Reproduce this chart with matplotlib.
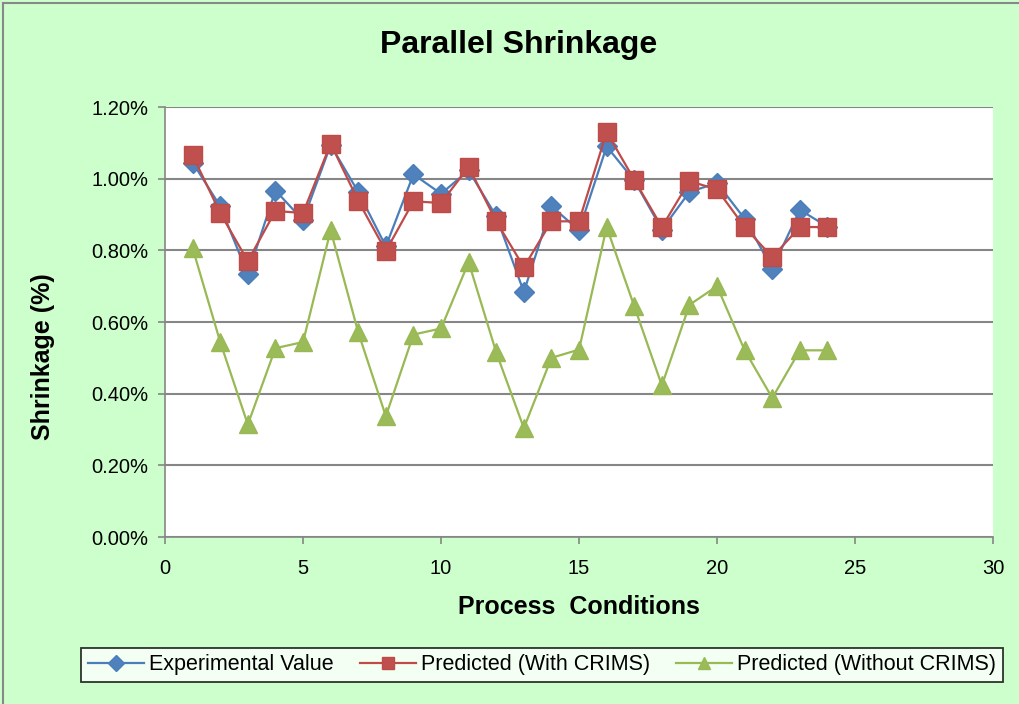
import matplotlib.pyplot as plt
from matplotlib.ticker import FuncFormatter, MultipleLocator
from matplotlib.lines import Line2D

plt.rcParams['font.family'] = ['Liberation Sans', 'DejaVu Sans']

# process condition index
conditions = list(range(1, 25))

# shrinkage values in %
experimental = [1.045, 0.923, 0.733, 0.967, 0.884, 1.094, 0.963, 0.811, 1.012, 0.958,
                1.023, 0.895, 0.684, 0.923, 0.856, 1.090, 0.995, 0.858, 0.963, 0.988,
                0.888, 0.749, 0.913, 0.866]
with_crims = [1.065, 0.904, 0.770, 0.910, 0.904, 1.098, 0.938, 0.798, 0.937, 0.932,
              1.033, 0.881, 0.753, 0.881, 0.881, 1.130, 0.997, 0.865, 0.993, 0.970,
              0.865, 0.781, 0.865, 0.865]
without_crims = [0.806, 0.544, 0.314, 0.527, 0.544, 0.856, 0.571, 0.337, 0.565, 0.582,
                 0.767, 0.515, 0.304, 0.500, 0.523, 0.865, 0.644, 0.423, 0.648, 0.700,
                 0.521, 0.388, 0.521, 0.521]

bg = '#CCFFCC'
fig = plt.figure(figsize=(10.2, 7.04), dpi=100, facecolor=bg)
ax = fig.add_axes([0.1618, 0.2372, 0.8118, 0.6108])
ax.set_facecolor('white')

ax.plot(conditions, experimental, color='#4A7EBB', lw=1.6, marker='D', ms=10,
        markerfacecolor='#4F81BD', markeredgecolor='#4A7EBB', label='Experimental Value', zorder=3)
ax.plot(conditions, with_crims, color='#BE4B48', lw=1.6, marker='s', ms=12.5,
        markerfacecolor='#C0504D', markeredgecolor='#BE4B48', label='Predicted (With CRIMS)', zorder=4)
ax.plot(conditions, without_crims, color='#98B954', lw=1.6, marker='^', ms=13,
        markerfacecolor='#9BBB59', markeredgecolor='#98B954', label='Predicted (Without CRIMS)', zorder=3)

ax.set_xlim(0, 30)
ax.set_ylim(0, 1.2)
ax.xaxis.set_major_locator(MultipleLocator(5))
ax.yaxis.set_major_locator(MultipleLocator(0.2))
ax.yaxis.set_major_formatter(FuncFormatter(lambda v, p: '%.2f%%' % v))
ax.grid(axis='y', color='#868686', lw=1.5)
ax.set_axisbelow(True)
for s in ['top', 'right']:
    ax.spines[s].set_visible(False)
for s in ['left', 'bottom']:
    ax.spines[s].set_color('#868686')
    ax.spines[s].set_linewidth(1.2)
ax.tick_params(colors='black', labelsize=14.5, length=5, color='#868686', width=1.2)
ax.tick_params(axis='y', pad=7)
ax.tick_params(axis='x', pad=11)

ax.set_xlabel('Process  Conditions', fontsize=18, fontweight='bold', labelpad=12)
fig.text(0.042, 0.493, 'Shrinkage (%)', rotation=90, ha='center', va='center',
         fontsize=18, fontweight='bold')
fig.text(0.508, 0.936, 'Parallel Shrinkage', ha='center', va='center', fontsize=23, fontweight='bold')

leg = fig.legend(loc='center', bbox_to_anchor=(0.5314, 0.0554), ncol=3, fontsize=15.5,
                 frameon=True, fancybox=False, edgecolor='black', facecolor='white',
                 handlelength=2.6, columnspacing=1.2, handletextpad=0.25,
                 borderpad=0.3, borderaxespad=0)
leg.get_frame().set_linewidth(1.3)
for h in leg.legend_handles:
    h.set_markersize(8)

# chart area border (top and left edges visible in the source)
fig.add_artist(Line2D([0.003, 0.003], [0.0, 0.996], transform=fig.transFigure, color='#888888', lw=1.5))
fig.add_artist(Line2D([0.003, 1.0], [0.996, 0.996], transform=fig.transFigure, color='#888888', lw=1.5))

fig.savefig('out.png', dpi=100, facecolor=bg)
